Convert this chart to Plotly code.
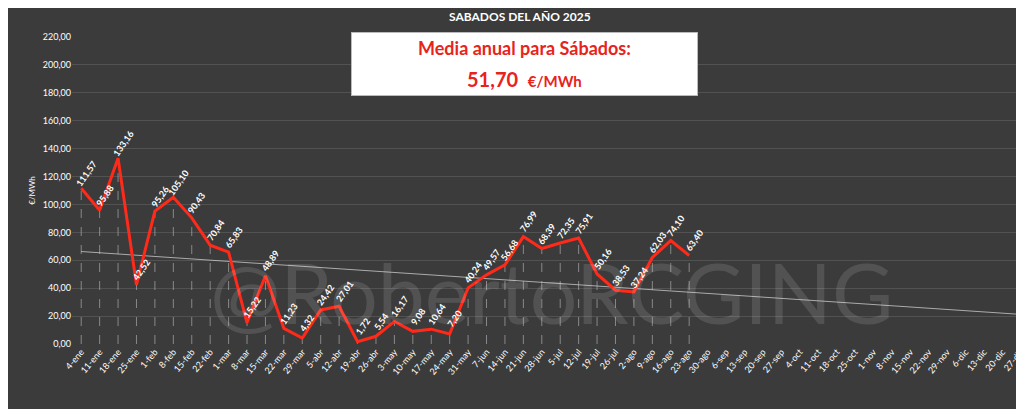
import plotly.graph_objects as go
import numpy as np
import datetime as dt

months = ["ene","feb","mar","abr","may","jun","jul","ago","sep","oct","nov","dic"]
d = dt.date(2025,1,4)
categories = []
while d.year == 2025:
    categories.append(f"{d.day}-{months[d.month-1]}")
    d += dt.timedelta(days=7)

values = [111.57, 95.88, 133.16, 42.52, 95.26, 105.10, 90.43, 70.84, 65.83, 15.22,
          48.89, 11.23, 4.32, 24.42, 27.01, 1.72, 5.54, 16.17, 9.08, 10.64,
          7.20, 40.24, 49.57, 56.68, 76.99, 68.39, 72.35, 75.91, 50.16, 38.53,
          37.24, 62.03, 74.10, 63.40]
yticks = list(range(0, 221, 20))
ytext = [f"{v},00" for v in yticks]

xs = categories[:len(values)]
idx = np.arange(len(values))
m, b = np.polyfit(idx, values, 1)
trend = [m*i + b for i in range(len(categories))]

fig = go.Figure()
for c, v in zip(xs, values):
    fig.add_trace(go.Scatter(x=[c, c], y=[0, v], mode="lines",
                             line=dict(color="rgba(200,200,200,0.55)", width=1, dash="dash"),
                             hoverinfo="skip", showlegend=False))
fig.add_trace(go.Scatter(x=categories, y=trend, mode="lines",
                         line=dict(color="rgba(220,220,220,0.7)", width=1), showlegend=False))
fig.add_trace(go.Scatter(x=xs, y=values, mode="lines",
                         line=dict(color="#ff2a1a", width=3), showlegend=False))

C = dict(xanchor="center", yanchor="middle")
ann = []
for c, v in zip(xs, values):
    ann.append(dict(x=c, y=v, text="<b>" + f"{v:.2f}".replace(".", ",") + "</b>", showarrow=False,
                    textangle=-55, yshift=15, xshift=5,
                    font=dict(family="Lato", size=9, color="white"), **C))
ann.append(dict(xref="paper", yref="paper", x=0.5, y=0.0, text="@RobertoRCGING", showarrow=False,
                xanchor="center", yanchor="bottom",
                font=dict(family="Lato", size=84, color="rgba(255,255,255,0.12)")))
ann.append(dict(xref="paper", yref="paper", x=0.468, y=1.068, showarrow=False,
                text="<b>SABADOS DEL AÑO 2025</b>", font=dict(family="Lato", size=12, color="white"), **C))
ann.append(dict(xref="paper", yref="paper", x=0.472, y=0.912, showarrow=False, text=" ",
                bgcolor="white", bordercolor="#bbbbbb", borderwidth=1, width=343, height=60, **C))
ann.append(dict(xref="paper", yref="paper", x=0.472, y=0.965, showarrow=False,
                text="<b>Media anual para Sábados:</b>", font=dict(family="Lato", size=18, color="#e8231b"), **C))
ann.append(dict(xref="paper", yref="paper", x=0.472, y=0.862, showarrow=False,
                text="<b>51,70  <span style='font-size:15px'>€/MWh</span></b>",
                font=dict(family="Lato", size=20, color="#e8231b"), **C))
fig.update_layout(annotations=ann)

fig.update_layout(
    width=1024, height=409,
    paper_bgcolor="#3b3b3b", plot_bgcolor="rgba(0,0,0,0)",
    margin=dict(l=64, r=2, t=29, b=73, autoexpand=False),
    xaxis=dict(type="category", categoryarray=categories, tickangle=-50, automargin=False,
               tickfont=dict(family="Lato", size=9, color="white"),
               showgrid=False, showline=False, range=[-0.5, len(categories)-0.5]),
    yaxis=dict(range=[0, 220], tickvals=yticks, ticktext=ytext, automargin=False,
               tickfont=dict(family="Lato", size=9, color="white"),
               gridcolor="rgba(255,255,255,0.12)", zeroline=False,
               title=dict(text="€/MWh", font=dict(family="Lato", size=8, color="white"), standoff=6)),
)
fig.write_html("out.html")
